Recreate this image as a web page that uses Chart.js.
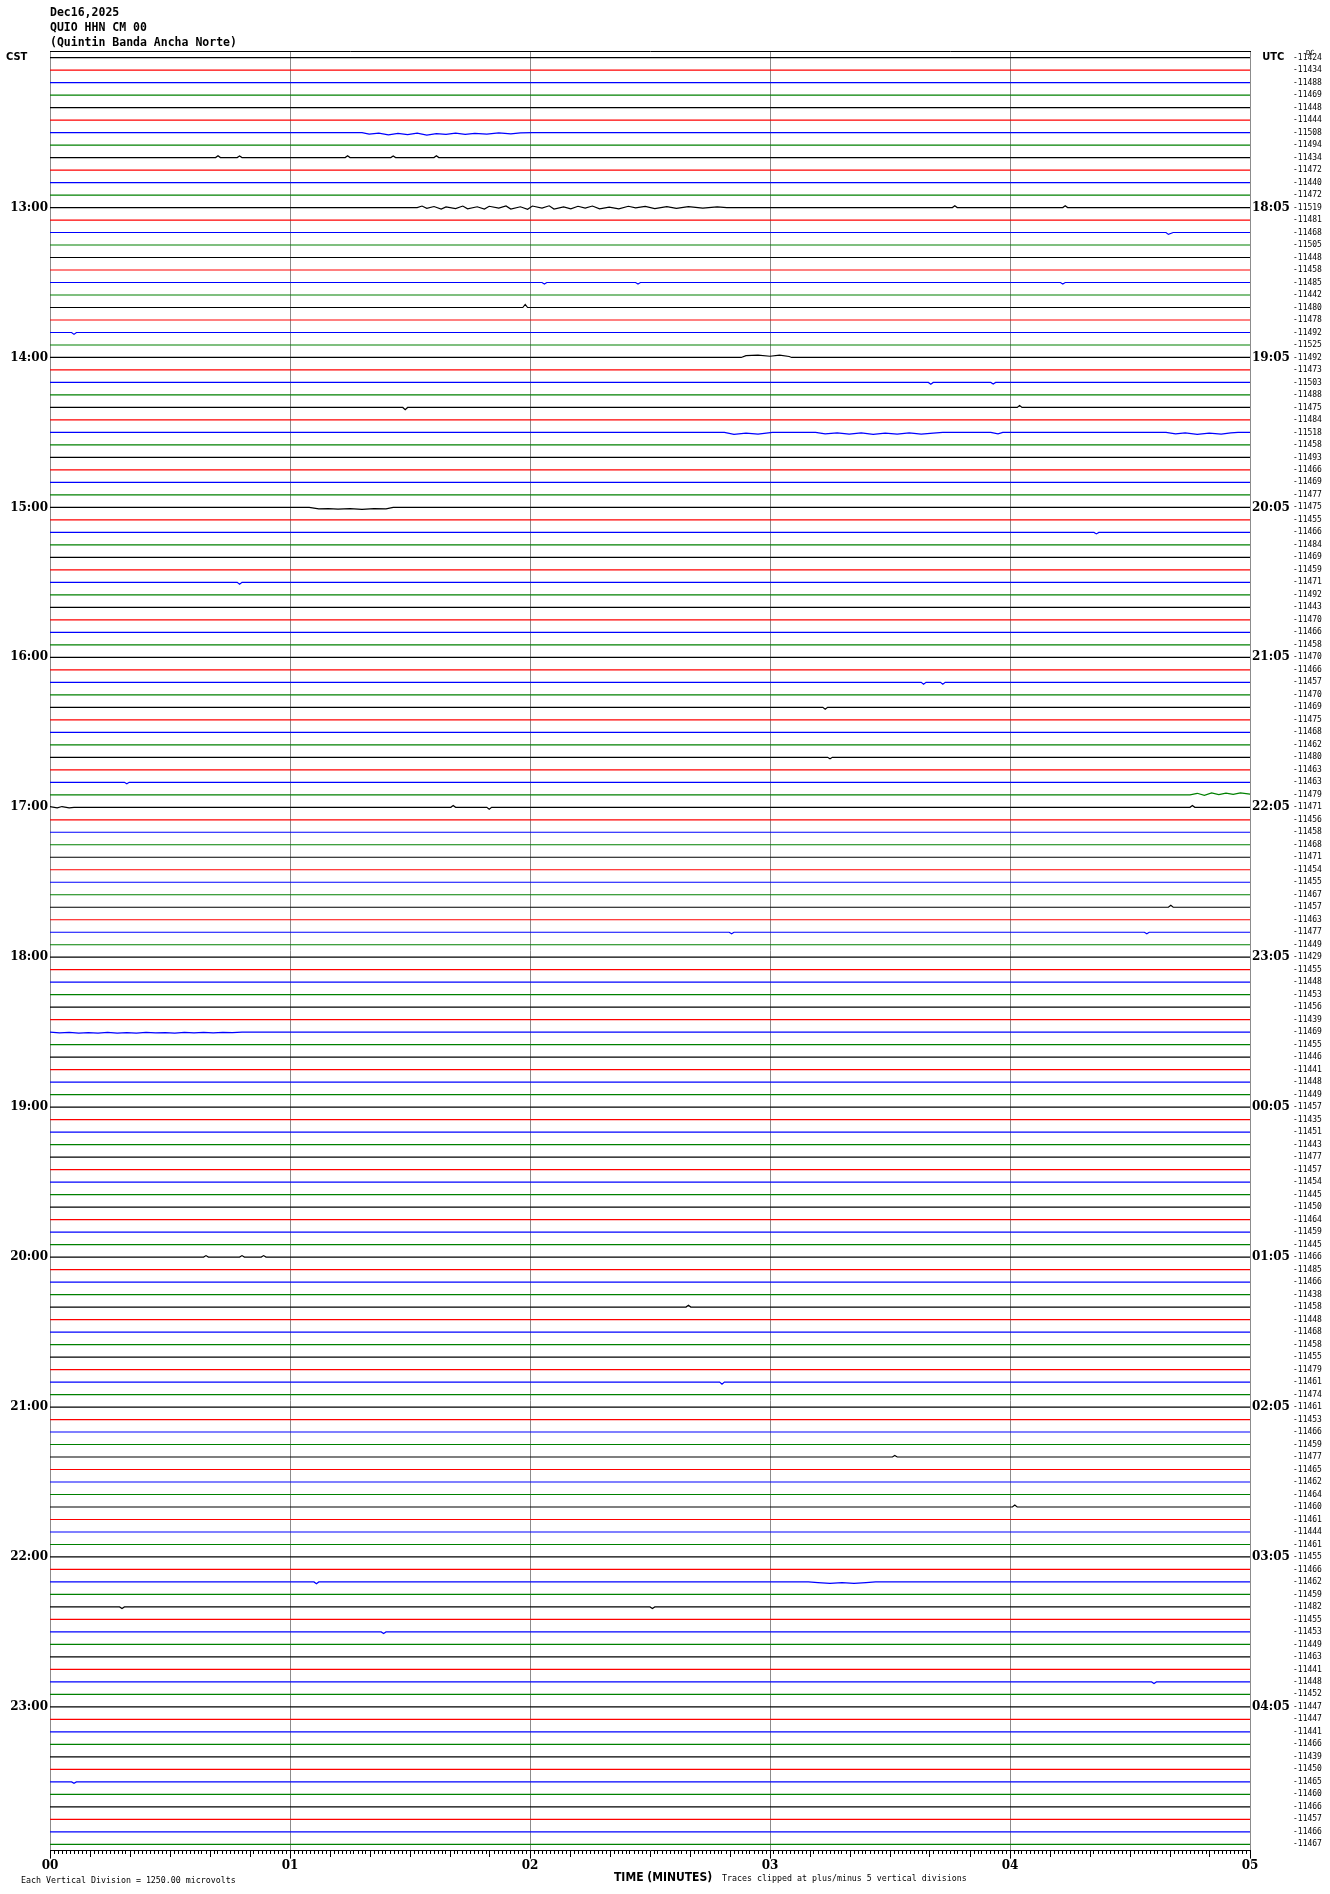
<!DOCTYPE html>
<html>
<head>
<meta charset="utf-8">
<title>QUIO HHN CM 00 - Dec16,2025</title>
<script src="https://cdn.jsdelivr.net/npm/chart.js@4.4.1/dist/chart.umd.min.js"></script>
<style>
  html, body { margin: 0; padding: 0; background: #fff; }
  #wrap { width: 1330px; height: 1894px; }
</style>
</head>
<body>
<div id="wrap"><canvas id="heli"></canvas></div>
<script>
// header / footer text
const headerLines = ['Dec16,2025', 'QUIO HHN CM 00', '(Quintin Banda Ancha Norte)'];
const timeTitle = 'TIME (MINUTES)';
const clipNote = 'Traces clipped at plus/minus 5 vertical divisions';
const divisionNote = 'Each Vertical Division = 1250.00 microvolts';
const dcTag = 'DC';

// one label every 12 rows (one hour), left = CST, right = UTC
const cstHours = ['CST', '13:00', '14:00', '15:00', '16:00', '17:00', '18:00', '19:00', '20:00', '21:00', '22:00', '23:00'];
const utcHours = ['UTC', '18:05', '19:05', '20:05', '21:05', '22:05', '23:05', '00:05', '01:05', '02:05', '03:05', '04:05'];
const minuteLabels = ['00', '01', '02', '03', '04', '05'];

// DC offset printed at the right of each 5-minute trace
const dcOffsets = [
  -11424, -11434, -11488, -11469, -11448, -11444, -11508, -11494, -11434, -11472, -11440, -11472,
  -11519, -11481, -11468, -11505, -11448, -11458, -11485, -11442, -11480, -11478, -11492, -11525,
  -11492, -11473, -11503, -11488, -11475, -11484, -11518, -11458, -11493, -11466, -11469, -11477,
  -11475, -11455, -11466, -11484, -11469, -11459, -11471, -11492, -11443, -11470, -11466, -11458,
  -11470, -11466, -11457, -11470, -11469, -11475, -11468, -11462, -11480, -11463, -11463, -11479,
  -11471, -11456, -11458, -11468, -11471, -11454, -11455, -11467, -11457, -11463, -11477, -11449,
  -11429, -11455, -11448, -11453, -11456, -11439, -11469, -11455, -11446, -11441, -11448, -11449,
  -11457, -11435, -11451, -11443, -11477, -11457, -11454, -11445, -11450, -11464, -11459, -11445,
  -11466, -11485, -11466, -11438, -11458, -11448, -11468, -11458, -11455, -11479, -11461, -11474,
  -11461, -11453, -11466, -11459, -11477, -11465, -11462, -11464, -11460, -11461, -11444, -11461,
  -11455, -11466, -11462, -11459, -11482, -11455, -11453, -11449, -11463, -11441, -11448, -11452,
  -11447, -11447, -11441, -11466, -11439, -11450, -11465, -11460, -11466, -11457, -11466, -11467
];

// visible signal on the traces: [row, [[minute, deflection in rows], ...]]
const events = [
  [6, [[1.30, 0], [1.33, -0.12], [1.37, -0.04], [1.41, -0.18], [1.45, -0.06], [1.49, -0.16], [1.53, -0.05], [1.57, -0.2], [1.61, -0.08], [1.65, -0.15], [1.69, -0.04], [1.73, -0.14], [1.77, -0.06], [1.82, -0.12], [1.87, -0.03], [1.92, -0.1], [1.96, -0.02], [2.01, 0]]],
  [8, [[0.69, 0], [0.70, 0.15], [0.71, 0], [0.78, 0], [0.79, 0.12], [0.80, 0], [1.23, 0], [1.24, 0.15], [1.25, 0], [1.42, 0], [1.43, 0.12], [1.44, 0], [1.60, 0], [1.61, 0.15], [1.62, 0]]],
  [12, [[1.53, 0], [1.55, 0.12], [1.57, -0.06], [1.60, 0.08], [1.63, -0.12], [1.65, 0.05], [1.69, -0.08], [1.72, 0.12], [1.74, -0.1], [1.78, 0.06], [1.81, -0.12], [1.83, 0.1], [1.87, -0.05], [1.90, 0.13], [1.92, -0.12], [1.96, 0.06], [1.99, -0.14], [2.01, 0.12], [2.05, -0.04], [2.08, 0.14], [2.10, -0.12], [2.14, 0.05], [2.17, -0.1], [2.20, 0.1], [2.23, -0.04], [2.26, 0.12], [2.29, -0.1], [2.33, 0.04], [2.37, -0.1], [2.41, 0.1], [2.44, -0.03], [2.48, 0.09], [2.52, -0.08], [2.57, 0.08], [2.61, -0.06], [2.66, 0.07], [2.72, -0.05], [2.78, 0.05], [2.82, 0], [3.76, 0], [3.77, 0.15], [3.78, 0], [4.22, 0], [4.23, 0.15], [4.24, 0]]],
  [14, [[4.65, 0], [4.66, -0.15], [4.68, 0]]],
  [18, [[2.05, 0], [2.06, -0.12], [2.07, 0], [2.44, 0], [2.45, -0.12], [2.46, 0], [4.21, 0], [4.22, -0.12], [4.23, 0]]],
  [20, [[1.97, 0], [1.98, 0.25], [1.99, 0]]],
  [22, [[0.09, 0], [0.10, -0.15], [0.11, 0]]],
  [24, [[2.88, 0], [2.90, 0.15], [2.95, 0.18], [3.00, 0.1], [3.04, 0.18], [3.08, 0.08], [3.09, 0]]],
  [26, [[3.66, 0], [3.67, -0.15], [3.68, 0], [3.92, 0], [3.93, -0.12], [3.94, 0]]],
  [28, [[1.47, 0], [1.48, -0.18], [1.49, 0], [4.03, 0], [4.04, 0.15], [4.05, 0]]],
  [30, [[2.81, 0], [2.85, -0.15], [2.90, -0.05], [2.95, -0.14], [3.01, 0], [3.19, 0], [3.23, -0.12], [3.28, -0.03], [3.33, -0.14], [3.38, -0.04], [3.43, -0.15], [3.48, -0.05], [3.53, -0.13], [3.58, -0.04], [3.63, -0.14], [3.68, -0.05], [3.72, 0], [3.92, 0], [3.95, -0.12], [3.97, 0], [4.65, 0], [4.69, -0.12], [4.73, -0.04], [4.78, -0.15], [4.83, -0.05], [4.88, -0.14], [4.92, -0.04], [4.95, 0]]],
  [36, [[1.08, 0], [1.12, -0.12], [1.16, -0.1], [1.20, -0.14], [1.25, -0.1], [1.30, -0.15], [1.35, -0.1], [1.40, -0.12], [1.43, 0]]],
  [38, [[4.35, 0], [4.36, -0.12], [4.37, 0]]],
  [42, [[0.78, 0], [0.79, -0.15], [0.80, 0]]],
  [50, [[3.63, 0], [3.64, -0.15], [3.65, 0], [3.71, 0], [3.72, -0.15], [3.73, 0]]],
  [52, [[3.22, 0], [3.23, -0.15], [3.24, 0]]],
  [56, [[3.24, 0], [3.25, -0.12], [3.26, 0]]],
  [58, [[0.31, 0], [0.32, -0.12], [0.33, 0]]],
  [59, [[4.75, 0], [4.78, 0.12], [4.81, -0.05], [4.84, 0.15], [4.87, 0.02], [4.90, 0.14], [4.93, 0.03], [4.96, 0.15], [5.0, 0.05]]],
  [60, [[0, 0.05], [0.03, -0.05], [0.05, 0.06], [0.08, -0.04], [0.10, 0], [1.67, 0], [1.68, 0.15], [1.69, 0], [1.82, 0], [1.83, -0.15], [1.84, 0], [4.75, 0], [4.76, 0.15], [4.77, 0]]],
  [68, [[4.66, 0], [4.67, 0.15], [4.68, 0]]],
  [70, [[2.83, 0], [2.84, -0.12], [2.85, 0], [4.56, 0], [4.57, -0.12], [4.58, 0]]],
  [78, [[0, 0], [0.04, -0.06], [0.08, -0.02], [0.12, -0.08], [0.16, -0.03], [0.20, -0.07], [0.24, -0.02], [0.28, -0.08], [0.32, -0.03], [0.36, -0.07], [0.40, -0.02], [0.44, -0.06], [0.48, -0.03], [0.52, -0.07], [0.56, -0.02], [0.60, -0.06], [0.64, -0.02], [0.68, -0.05], [0.72, -0.02], [0.76, -0.04], [0.80, 0]]],
  [96, [[0.64, 0], [0.65, 0.12], [0.66, 0], [0.79, 0], [0.80, 0.12], [0.81, 0], [0.88, 0], [0.89, 0.12], [0.90, 0]]],
  [100, [[2.65, 0], [2.66, 0.15], [2.67, 0]]],
  [106, [[2.79, 0], [2.80, -0.18], [2.81, 0]]],
  [112, [[3.51, 0], [3.52, 0.12], [3.53, 0]]],
  [116, [[4.01, 0], [4.02, 0.15], [4.03, 0]]],
  [122, [[1.10, 0], [1.11, -0.15], [1.12, 0], [3.16, 0], [3.20, -0.06], [3.25, -0.12], [3.30, -0.05], [3.35, -0.12], [3.40, -0.06], [3.44, 0]]],
  [124, [[0.29, 0], [0.30, -0.12], [0.31, 0], [2.50, 0], [2.51, -0.12], [2.52, 0]]],
  [126, [[1.38, 0], [1.39, -0.12], [1.40, 0]]],
  [130, [[4.59, 0], [4.60, -0.12], [4.61, 0]]],
  [138, [[0.09, 0], [0.10, -0.12], [0.11, 0]]]
];

const rowsPerHour = 12;
const traceColors = ['#000000', '#ff0000', '#0000ff', '#008000'];
const rowCount = dcOffsets.length;
const yMin = -0.5, yMax = rowCount - 0.5;

const byRow = {};
events.forEach(([row, pts]) => { byRow[row] = (byRow[row] || []).concat(pts); });

const datasets = dcOffsets.map((_, row) => {
  const pts = byRow[row] || [];
  const data = [{ x: 0, y: row }]
    .concat(pts.map(([t, d]) => ({ x: t, y: row - d })))
    .concat([{ x: 5, y: row }]);
  return {
    data: data,
    borderColor: traceColors[row % 4],
    borderWidth: 1.2,
    pointRadius: 0,
    tension: 0,
    fill: false,
    xAxisID: 'x',
    yAxisID: 'y'
  };
});

const rowTicks = (scale) => { scale.ticks = dcOffsets.map((_, i) => ({ value: i })); };
const fracTicks = (perMinute) => (scale) => {
  const t = [];
  for (let i = 0; i <= 5 * perMinute; i++) t.push({ value: i / perMinute });
  scale.ticks = t;
};

const hourFont = { family: 'DejaVu Serif', weight: 'bold', size: 12 };
const tagFont = { family: 'DejaVu Sans Condensed', weight: 'bold', size: 11 };

const footerText = {
  id: 'footerText',
  afterDraw(chart) {
    const c = chart.ctx;
    c.save();
    c.fillStyle = '#000';
    c.textBaseline = 'middle';
    c.textAlign = 'left';
    c.font = '8.3px "DejaVu Sans Mono"';
    c.fillText(divisionNote, 21, 1881);
    c.fillText(clipNote, 722, 1879);
    c.font = 'bold 12px "DejaVu Sans Condensed"';
    c.fillText(timeTitle, 614, 1878);
    c.font = '7px "DejaVu Sans Mono"';
    c.fillText(dcTag, 1306, 53);
    c.restore();
  }
};

new Chart(document.getElementById('heli').getContext('2d'), {
  type: 'line',
  data: { datasets: datasets },
  options: {
    responsive: true,
    maintainAspectRatio: false,
    animation: false,
    events: [],
    layout: { padding: { top: 0, right: 0, bottom: 21, left: 0 } },
    plugins: {
      legend: { display: false },
      tooltip: { enabled: false },
      title: {
        display: true,
        text: headerLines,
        align: 'start',
        fullSize: false,
        color: '#000',
        font: { family: 'DejaVu Sans Mono', weight: 'bold', size: 11.5, lineHeight: 1.3 },
        padding: { top: 6, bottom: 0.5 }
      }
    },
    scales: {
      x: {
        type: 'linear',
        position: 'bottom',
        min: 0,
        max: 5,
        afterBuildTicks: fracTicks(1),
        ticks: {
          autoSkip: false,
          maxRotation: 0,
          padding: 0,
          color: '#000',
          font: { family: 'DejaVu Serif', weight: 'bold', size: 12 },
          callback: (v, i) => minuteLabels[i]
        },
        grid: { color: '#8c8c8c', tickColor: '#000', tickLength: 8, lineWidth: 1 },
        border: { display: true, color: '#000' }
      },
      x10: {
        type: 'linear',
        position: { y: yMax },
        min: 0,
        max: 5,
        afterBuildTicks: fracTicks(6),
        ticks: { display: false },
        grid: { drawOnChartArea: false, tickLength: 6, tickColor: '#000' },
        border: { display: false }
      },
      xs: {
        type: 'linear',
        position: { y: yMax },
        min: 0,
        max: 5,
        afterBuildTicks: fracTicks(60),
        ticks: { display: false },
        grid: { drawOnChartArea: false, tickLength: 3, tickColor: '#000' },
        border: { display: false }
      },
      xTop: {
        type: 'linear',
        position: 'top',
        min: 0,
        max: 5,
        ticks: { display: false },
        grid: { display: false, drawTicks: false },
        border: { display: true, color: '#000' }
      },
      y: {
        type: 'linear',
        position: 'left',
        min: yMin,
        max: yMax,
        reverse: true,
        afterBuildTicks: rowTicks,
        afterFit: (s) => { s.width = 50; },
        ticks: {
          autoSkip: false,
          padding: 2,
          color: '#000',
          font: (ctx) => (ctx.index === 0 ? tagFont : hourFont),
          callback: (v, i) => (i % rowsPerHour === 0 ? (i === 0 ? cstHours[0] + '      ' : cstHours[i / rowsPerHour]) : '')
        },
        grid: { display: false, drawTicks: false },
        border: { display: false }
      },
      yH: {
        type: 'linear',
        position: 'right',
        weight: 0,
        min: yMin,
        max: yMax,
        reverse: true,
        afterBuildTicks: rowTicks,
        afterFit: (s) => { s.width = 42; },
        ticks: {
          autoSkip: false,
          padding: 2,
          color: '#000',
          font: (ctx) => (ctx.index === 0 ? tagFont : hourFont),
          callback: (v, i) => (i % rowsPerHour === 0 ? (i === 0 ? '   ' + utcHours[0] : utcHours[i / rowsPerHour]) : '')
        },
        grid: { display: false, drawTicks: false },
        border: { display: false }
      },
      yN: {
        type: 'linear',
        position: 'right',
        weight: 1,
        min: yMin,
        max: yMax,
        reverse: true,
        afterBuildTicks: rowTicks,
        afterFit: (s) => { s.width = 38; },
        ticks: {
          autoSkip: false,
          padding: 1,
          color: '#000',
          font: { family: 'DejaVu Sans Mono', size: 8 },
          callback: (v, i) => String(dcOffsets[i])
        },
        grid: { display: false, drawTicks: false },
        border: { display: false }
      }
    }
  },
  plugins: [footerText]
});
</script>
</body>
</html>
